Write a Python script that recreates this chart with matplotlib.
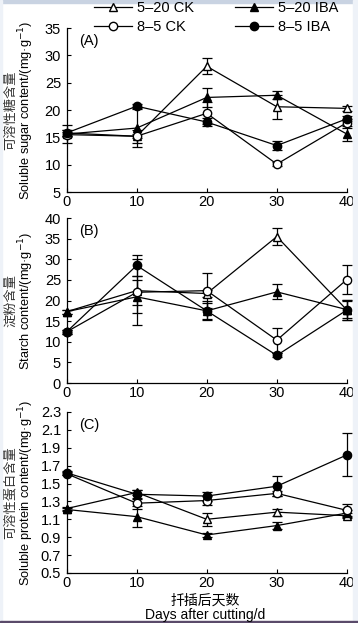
import matplotlib
matplotlib.use('Agg')
import matplotlib.pyplot as plt
from matplotlib.lines import Line2D
from matplotlib.patches import Rectangle

plt.rcParams['font.family'] = ['Liberation Sans', 'Noto Sans CJK SC', 'DejaVu Sans']
plt.rcParams['axes.unicode_minus'] = False

days = [0, 10, 20, 30, 40]
labels = ['5\u201320 CK', '5\u201320 IBA', '8\u20135 CK', '8\u20135 IBA']

# soluble sugar (A)
sugar_ck520 = [15.8, 15.2, 28.0, 20.6, 20.3]
sugar_iba520 = [15.6, 16.7, 22.3, 22.7, 15.6]
sugar_ck85 = [15.5, 15.2, 19.4, 10.1, 17.7]
sugar_iba85 = [15.8, 20.7, 17.8, 13.5, 18.4]
sugar_err_ck520 = [0.5, 1.2, 1.5, 2.2, 0.4]
sugar_err_iba520 = [1.7, 3.5, 1.8, 0.7, 1.2]
sugar_err_ck85 = [0.4, 0.4, 2.0, 0.3, 0.6]
sugar_err_iba85 = [0.5, 0.4, 0.7, 0.9, 0.5]

# starch (B)
starch_ck520 = [17.3, 22.4, 21.7, 35.5, 17.7]
starch_iba520 = [17.3, 20.9, 17.5, 22.1, 17.8]
starch_ck85 = [12.4, 22.0, 22.4, 10.4, 25.1]
starch_iba85 = [12.4, 28.5, 17.5, 6.7, 17.7]
starch_err_ck520 = [0.5, 3.5, 0.8, 2.0, 2.5]
starch_err_iba520 = [0.5, 4.0, 2.0, 1.8, 2.0]
starch_err_ck85 = [0.5, 8.0, 4.3, 3.0, 3.6]
starch_err_iba85 = [0.5, 2.5, 2.3, 0.5, 2.5]

# soluble protein (C)
prot_ck520 = [1.22, 1.40, 1.10, 1.18, 1.14]
prot_iba520 = [1.21, 1.13, 0.925, 1.03, 1.17]
prot_ck85 = [1.61, 1.28, 1.31, 1.39, 1.20]
prot_iba85 = [1.62, 1.38, 1.36, 1.47, 1.82]
prot_err_ck520 = [0.02, 0.03, 0.07, 0.04, 0.03]
prot_err_iba520 = [0.02, 0.12, 0.02, 0.04, 0.03]
prot_err_ck85 = [0.02, 0.06, 0.05, 0.03, 0.07]
prot_err_iba85 = [0.02, 0.05, 0.05, 0.11, 0.24]

styles = [('^', 'white'), ('^', 'black'), ('o', 'white'), ('o', 'black')]

fig = plt.figure(figsize=(3.58, 6.23), dpi=100)

# light frame of the scanned page
fig.patches.append(Rectangle((0, 0.995), 1, 0.005, transform=fig.transFigure, color='#c9d3e2', zorder=0))
fig.patches.append(Rectangle((0.985, 0), 0.015, 1, transform=fig.transFigure, color='#eef2f8', zorder=0))
fig.patches.append(Rectangle((0, 0), 0.006, 1, transform=fig.transFigure, color='#eef2f8', zorder=0))
fig.patches.append(Rectangle((0, 0), 1, 0.0035, transform=fig.transFigure, color='#5a4a6a', zorder=0))

panels = [
    dict(pos=[0.186, 0.6918, 0.783, 0.2632], ylim=(5, 35), yticks=[5, 10, 15, 20, 25, 30, 35],
         fmt='%d', tag='(A)', cn='可溶性糖含量', en='Soluble sugar content/(mg·g$^{-1}$)',
         ys=[sugar_ck520, sugar_iba520, sugar_ck85, sugar_iba85],
         es=[sugar_err_ck520, sugar_err_iba520, sugar_err_ck85, sugar_err_iba85]),
    dict(pos=[0.186, 0.3852, 0.783, 0.2648], ylim=(0, 40), yticks=[0, 5, 10, 15, 20, 25, 30, 35, 40],
         fmt='%d', tag='(B)', cn='淀粉含量', en='Starch content/(mg·g$^{-1}$)',
         ys=[starch_ck520, starch_iba520, starch_ck85, starch_iba85],
         es=[starch_err_ck520, starch_err_iba520, starch_err_ck85, starch_err_iba85]),
    dict(pos=[0.186, 0.0803, 0.783, 0.2584], ylim=(0.5, 2.3),
         yticks=[0.5, 0.7, 0.9, 1.1, 1.3, 1.5, 1.7, 1.9, 2.1, 2.3],
         fmt='%.1f', tag='(C)', cn='可溶性蛋白含量', en='Soluble protein content/(mg·g$^{-1}$)',
         ys=[prot_ck520, prot_iba520, prot_ck85, prot_iba85],
         es=[prot_err_ck520, prot_err_iba520, prot_err_ck85, prot_err_iba85]),
]

for p in panels:
    ax = fig.add_axes(p['pos'])
    for y, e, (m, fc) in zip(p['ys'], p['es'], styles):
        ax.errorbar(days, y, yerr=e, color='black', marker=m, markerfacecolor=fc,
                    markeredgecolor='black', markersize=6, linewidth=0.9,
                    elinewidth=0.9, capsize=3.5, capthick=0.9, clip_on=False, zorder=3)
    ax.set_xlim(0, 40)
    ax.set_ylim(*p['ylim'])
    ax.set_xticks(days)
    ax.set_yticks(p['yticks'])
    ax.set_yticklabels([p['fmt'] % v for v in p['yticks']])
    ax.spines['top'].set_visible(False)
    ax.spines['right'].set_visible(False)
    for s in ['left', 'bottom']:
        ax.spines[s].set_linewidth(0.9)
    ax.tick_params(direction='in', length=3, width=0.8, labelsize=10.5)
    ax.tick_params(axis='y', pad=4)
    ax.tick_params(axis='x', pad=2.5)
    ax.text(0.045, 0.92, p['tag'], transform=ax.transAxes, fontsize=10.5, va='center')
    ax.text(-0.143, 0.5, p['en'], transform=ax.transAxes, rotation=90,
            ha='center', va='center', fontsize=9.2)
    ax.text(-0.197, 0.5, p['cn'], transform=ax.transAxes, rotation=90,
            ha='center', va='center', fontsize=9.5, color='#333333')

fig.text(0.573, 0.036, '扦插后天数', ha='center', va='center', fontsize=10)
fig.text(0.573, 0.013, 'Days after cutting/d', ha='center', va='center', fontsize=10)

# legend fills column-wise: reorder so rows read CK / IBA
order = [0, 2, 1, 3]
handles = [Line2D([], [], color='black', marker=m, markerfacecolor=fc, markeredgecolor='black',
                  markersize=6, linewidth=0.9) for m, fc in styles]
fig.legend([handles[i] for i in order], [labels[i] for i in order], ncol=2, loc='upper center',
           bbox_to_anchor=(0.605, 1.02), frameon=False, fontsize=10.5, handlelength=2.6,
           handletextpad=0.35, columnspacing=2.8, labelspacing=0.35)

fig.savefig('out.png', dpi=100)
